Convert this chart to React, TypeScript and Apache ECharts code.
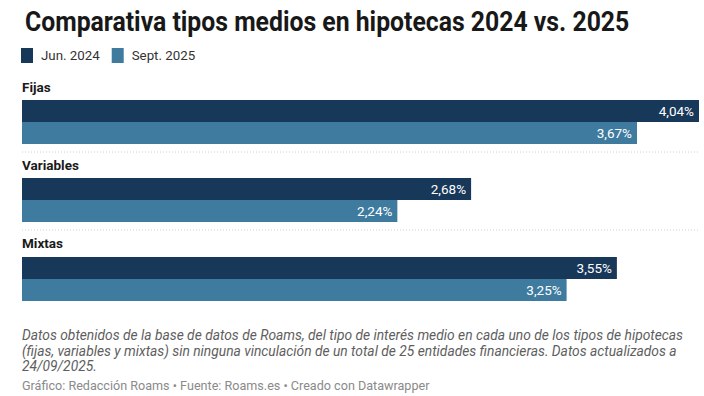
import React, { useEffect, useRef } from "react";
import * as echarts from "echarts";

const categories = ["Fijas", "Variables", "Mixtas"];
const jun2024 = [4.04, 2.68, 3.55];
const sept2025 = [3.67, 2.24, 3.25];
const seriesNames = ["Jun. 2024", "Sept. 2025"];
const titleText = "Comparativa tipos medios en hipotecas 2024 vs. 2025";
const noteLines = [
  "Datos obtenidos de la base de datos de Roams, del tipo de interés medio en cada uno de los tipos de hipotecas",
  "(fijas, variables y mixtas) sin ninguna vinculación de un total de 25 entidades financieras. Datos actualizados a",
  "24/09/2025.",
];
const credits = "Gráfico: Redacción Roams • Fuente: Roams.es • Creado con Datawrapper";

const DARK = "#18385a";
const LIGHT = "#3e7b9f";
const FONT = "Roboto, 'Noto Sans', sans-serif";

export default function App() {
  const ref = useRef<HTMLDivElement>(null);
  useEffect(() => {
    if (!ref.current) return;
    const chart = echarts.init(ref.current, undefined, { renderer: "svg" });
    const gridTops = [100, 178, 257];
    const labelYs = [87, 165, 243];
    const sepYs = [152, 230];
    const maxV = Math.max(...jun2024, ...sept2025);
    const fmt = (p: any) => Number(p.value).toFixed(2).replace(".", ",") + "%";
    const grids = categories.map((_, i) => ({
      left: 22,
      right: 5,
      top: gridTops[i],
      height: 44,
    }));
    const xAxes = categories.map((_, i) => ({
      type: "value",
      gridIndex: i,
      min: 0,
      max: maxV,
      show: false,
    }));
    const yAxes = categories.map((c, i) => ({
      type: "category",
      gridIndex: i,
      data: [c],
      inverse: true,
      show: false,
    }));
    const series: any[] = [];
    categories.forEach((_, i) => {
      [jun2024, sept2025].forEach((arr, k) => {
        series.push({
          type: "bar",
          name: seriesNames[k],
          xAxisIndex: i,
          yAxisIndex: i,
          data: [arr[i]],
          barWidth: 22,
          barGap: "0%",
          barCategoryGap: "0%",
          itemStyle: { color: k === 0 ? DARK : LIGHT },
          label: {
            show: true,
            position: "insideRight",
            distance: 5,
            color: "#ffffff",
            fontSize: 13.5,
            fontFamily: FONT,
            formatter: fmt,
          },
        });
      });
    });
    const graphics: any[] = [];
    graphics.push({
      type: "text",
      x: 25,
      y: 21,
      scaleX: 0.885,
      scaleY: 1,
      style: {
        text: titleText,
        font: `bold 28px ${FONT}`,
        fill: "#181818",
        textVerticalAlign: "middle",
        verticalAlign: "middle",
      },
    });
    categories.forEach((c, i) => {
      graphics.push({
        type: "text",
        x: 22,
        y: labelYs[i],
        style: {
          text: c,
          font: `bold 13.5px ${FONT}`,
          fill: "#1a1a1a",
          verticalAlign: "middle",
          textVerticalAlign: "middle",
        },
      });
    });
    sepYs.forEach((y) => {
      graphics.push({
        type: "line",
        shape: { x1: 22, y1: y, x2: 699, y2: y },
        style: { stroke: "#d0d0d0", lineWidth: 1, lineDash: [1, 2] },
      });
    });
    noteLines.forEach((t, i) => {
      graphics.push({
        type: "text",
        x: 22,
        y: 335 + i * 15.5,
        style: {
          text: t,
          font: `italic 13.8px ${FONT}`,
          fill: "#5e5e5e",
          verticalAlign: "middle",
          textVerticalAlign: "middle",
        },
      });
    });
    graphics.push({
      type: "text",
      x: 22,
      y: 385,
      style: {
        text: credits,
        font: `12.6px ${FONT}`,
        fill: "#8a8a8a",
        verticalAlign: "middle",
        textVerticalAlign: "middle",
      },
    });
    chart.setOption({
      animation: false,
      backgroundColor: "#ffffff",
      legend: {
        data: seriesNames,
        left: 16,
        top: 43,
        icon: "rect",
        itemWidth: 12,
        itemHeight: 15,
        itemGap: 12,
        textStyle: {
          fontSize: 13.3,
          fontFamily: FONT,
          color: "#333",
          padding: [0, 0, 0, 3],
        },
        selectedMode: false,
      },
      grid: grids,
      xAxis: xAxes,
      yAxis: yAxes,
      series,
      graphic: graphics,
    });
    return () => chart.dispose();
  }, []);
  return (
    <div
      ref={ref}
      style={{ position: "fixed", left: 0, top: 0, width: 704, height: 396 }}
    />
  );
}
